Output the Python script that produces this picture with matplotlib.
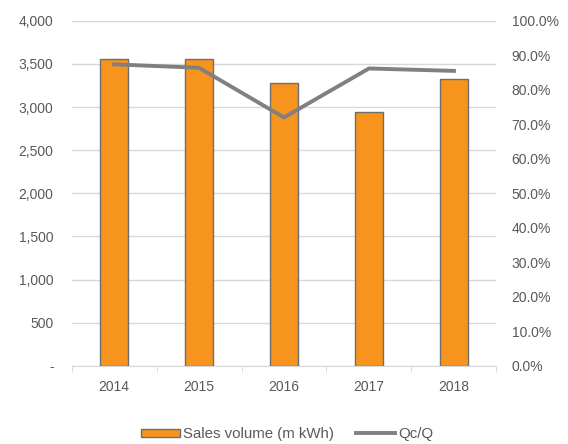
import matplotlib
matplotlib.use("Agg")
import matplotlib.pyplot as plt
from matplotlib.ticker import FuncFormatter, MultipleLocator
import numpy as np

plt.rcParams['font.family'] = ['Liberation Sans', 'DejaVu Sans']
plt.rcParams['font.size'] = 10

# yearly sales and Qc/Q ratio
years = ['2014', '2015', '2016', '2017', '2018']
sales = [3558, 3558, 3283, 2945, 3328]
qc_q = [87.4, 86.4, 72.0, 86.2, 85.5]

txt = '#595959'
fig = plt.figure(figsize=(5.68, 4.44), dpi=100)
ax = fig.add_axes([0.126, 0.176, 0.748, 0.777])
ax2 = ax.twinx()

x = np.arange(len(years))
bars = ax.bar(x, sales, width=0.32, color='#F7941D', edgecolor='#6E6E6E', linewidth=1.0,
              zorder=3, label='Sales volume (m kWh)')
line, = ax2.plot(x, qc_q, color='#808080', linewidth=2.8, label='Qc/Q', zorder=4)

ax.set_xlim(-0.5, len(years) - 0.5)
ax.set_ylim(0, 4000)
ax.yaxis.set_major_locator(MultipleLocator(500))
ax.yaxis.set_major_formatter(FuncFormatter(lambda v, p: '-' if v == 0 else f'{v:,.0f}'))
ax2.set_ylim(0, 100)
ax2.yaxis.set_major_locator(MultipleLocator(10))
ax2.yaxis.set_major_formatter(FuncFormatter(lambda v, p: f'{v:.1f}%'))

ax.grid(axis='y', color='#D9D9D9', linewidth=1.0, zorder=0)
ax.set_axisbelow(True)

for a in (ax, ax2):
    for s in ['top', 'left', 'right', 'bottom']:
        a.spines[s].set_visible(False)
ax.spines['bottom'].set_visible(True)
ax.spines['bottom'].set_color('#D9D9D9')

ax.set_xticks(x)
ax.set_xticklabels(years)
ax.set_xticks(np.arange(-0.5, len(years), 1), minor=True)
ax.tick_params(axis='x', which='major', length=0, colors=txt, pad=10)
ax.tick_params(axis='x', which='minor', length=4, color='#D9D9D9')
ax.tick_params(axis='y', length=0, colors=txt, pad=13)
ax2.tick_params(axis='y', length=0, colors=txt, pad=11)

leg = fig.legend(handles=[bars, line], loc='center', bbox_to_anchor=(0.505, 0.022),
                 ncol=2, frameon=False, fontsize=10.8, handlelength=2.6, handleheight=0.5,
                 columnspacing=1.5, handletextpad=0.2)
for t in leg.get_texts():
    t.set_color(txt)

fig.savefig('out.png', dpi=100)
